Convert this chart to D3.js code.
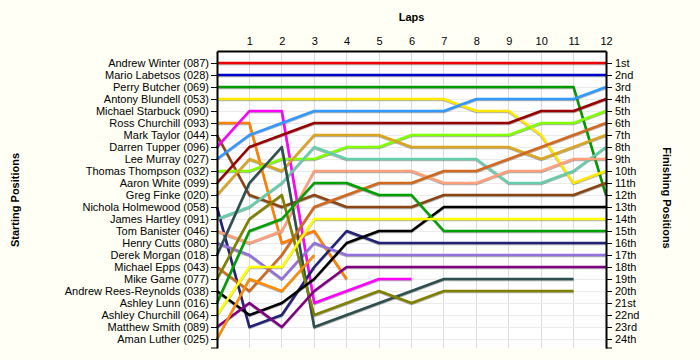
<!DOCTYPE html>
<html><head><meta charset="utf-8">
<script src="https://cdn.jsdelivr.net/npm/d3@7"></script>
<style>
html,body{margin:0;padding:0;background:#FFFFF5;}
svg{display:block;font-family:"Liberation Sans",Arial,sans-serif;}
</style></head>
<body>
<svg id="chart" width="700" height="360"></svg>
<script>
const drivers = ["Andrew Winter (087)","Mario Labetsos (028)","Perry Butcher (069)","Antony Blundell (053)","Michael Starbuck (090)","Ross Churchill (093)","Mark Taylor (044)","Darren Tupper (096)","Lee Murray (027)","Thomas Thompson (032)","Aaron White (099)","Greg Finke (020)","Nichola Holmewood (058)","James Hartley (091)","Tom Banister (046)","Henry Cutts (080)","Derek Morgan (018)","Michael Epps (043)","Mike Game (077)","Andrew Rees-Reynolds (038)","Ashley Lunn (016)","Ashley Churchill (064)","Matthew Smith (089)","Aman Luther (025)"];
const lapLabels = ["1","2","3","4","5","6","7","8","9","10","11","12"];
const finishLabels = ["1st","2nd","3rd","4th","5th","6th","7th","8th","9th","10th","11th","12th","13th","14th","15th","16th","17th","18th","19th","20th","21st","22nd","23rd","24th"];
// position of each driver at lap 0..n (retired drivers have shorter lists)
const positions = [
 [1,1,1,1,1,1,1,1,1,1,1,1,1],
 [2,2,2,2,2,2,2,2,2,2,2,2,2],
 [3,3,3,3,3,3,3,3,3,3,3,3,12],
 [4,4,4,4,4,4,4,4,5,5,7,11,10],
 [],
 [6,6,16,15,19],
 [7,12,13,12,13,13,13,12,12,12,12,12,11],
 [8,5,5,21,20,19,19],
 [9,7,6,5,5,5,5,5,4,4,4,4,3],
 [10,10,9,9,8,8,7,7,7,7,6,6,5],
 [11,8,7,6,6,6,6,6,6,6,5,5,4],
 [12,9,10,7,7,7,8,8,8,8,9,8,7],
 [13,23,22,18,15,16,16,16,16,16,16,16,16],
 [14,13,11,8,9,9,9,9,9,11,11,10,8],
 [15,16,15,10,10,10,10,11,11,10,10,9,9],
 [16,17,19,16,17,17,17,17,17,17,17,17,17],
 [17,11,8,23,22,21,20,19,19,19,19,19],
 [18,20,17,13,12,11,11,10,10,9,8,7,6],
 [19,14,12,22,21,20,21,20,20,20,20,20],
 [20,22,21,19,16,15,15,13,13,13,13,13,13],
 [21,15,14,11,11,12,12,15,15,15,15,15,15],
 [22,18,18,14,14,14,14,14,14,14,14,14,14],
 [23,21,23,20,18,18,18,18,18,18,18,18,18],
 [24,19,20,17]
];
const colors = ["#EE0000","#0000CC","#009900","#FFE800","#FFFFFF","#FF8000","#8B4513","#FF00FF","#3399FF","#80FF00","#990000","#DAA520","#222277","#66CDAA","#FFA07A","#9370DB","#2F4F4F","#D2691E","#808000","#000000","#00A000","#FFFF00","#800080","#FF8C00"];

const svg = d3.select("#chart");
const x = d3.scaleLinear().domain([0,12]).range([217,606]);
const y = d3.scaleLinear().domain([0,24.75]).range([51,348]);

svg.append("rect").attr("x",x(0)).attr("y",y(0)).attr("width",x(12)-x(0)).attr("height",y(24.75)-y(0)).attr("fill","#FFFFFF");

const grid = svg.append("g");
grid.selectAll("line.v").data(d3.range(1,12)).join("line")
  .attr("x1",d=>x(d)).attr("x2",d=>x(d)).attr("y1",y(0)).attr("y2",y(24.75))
  .attr("stroke","#DCDCDC").attr("stroke-width",1).attr("shape-rendering","crispEdges");
grid.selectAll("line.h").data(d3.range(1,25)).join("line")
  .attr("x1",x(0)).attr("x2",x(12)).attr("y1",d=>Math.round(y(d))+0.5).attr("y2",d=>Math.round(y(d))+0.5)
  .attr("stroke","#EBEBEB").attr("stroke-width",1);

const line = d3.line().x((d,i)=>x(i)).y(d=>y(d));
const lg = svg.append("g");
positions.forEach((p,i)=>{
  if(p.length<2) return;
  lg.append("path").attr("d",line(p)).attr("fill","none")
    .attr("stroke","#000").attr("stroke-opacity",0.3).attr("stroke-width",2.4)
    .attr("transform","translate(0,1)").attr("stroke-linejoin","round");
});
positions.forEach((p,i)=>{
  if(p.length<2) return;
  lg.append("path").attr("d",line(p)).attr("fill","none")
    .attr("stroke",colors[i]).attr("stroke-width",2.6).attr("stroke-linejoin","round");
});

const ticksPos = d3.range(1,25);
const leftAxis = d3.axisLeft(y).tickValues(ticksPos).tickFormat(d=>drivers[d-1]).tickSize(6).tickSizeOuter(0).tickPadding(2);
const gl = svg.append("g").attr("transform",`translate(${x(0)},0)`).call(leftAxis);
const rightAxis = d3.axisRight(y).tickValues(ticksPos).tickFormat(d=>finishLabels[d-1]).tickSize(6).tickSizeOuter(0).tickPadding(3);
const gr = svg.append("g").attr("transform",`translate(${x(12)},0)`).call(rightAxis);
const topAxis = d3.axisTop(x).tickValues(d3.range(1,13)).tickFormat(d=>lapLabels[d-1]).tickSize(0).tickSizeOuter(0).tickPadding(6);
const gt = svg.append("g").attr("transform",`translate(0,${y(0)})`).call(topAxis);
[gl,gr,gt].forEach(g=>{
  g.selectAll("text").attr("font-size","11px").attr("fill","#000").attr("font-family","'Liberation Sans',Arial,sans-serif");
  g.selectAll("line").attr("stroke","#000");
  g.select(".domain").attr("stroke","#000").attr("stroke-width",2);
});
svg.append("line").attr("x1",x(0)-6).attr("x2",x(0)).attr("y1",y(24.75)).attr("y2",y(24.75)).attr("stroke","#000");
svg.append("line").attr("x1",x(12)).attr("x2",x(12)+6).attr("y1",y(24.75)).attr("y2",y(24.75)).attr("stroke","#000");

svg.append("text").attr("x",(x(0)+x(12))/2).attr("y",21).attr("text-anchor","middle")
  .attr("font-size","11px").attr("font-weight","bold").text("Laps");
svg.append("text").attr("transform","translate(19,200) rotate(-90)").attr("text-anchor","middle")
  .attr("font-size","11px").attr("font-weight","bold").text("Starting Positions");
svg.append("text").attr("transform","translate(663,198) rotate(90)").attr("text-anchor","middle")
  .attr("font-size","11px").attr("font-weight","bold").text("Finishing Positions");
</script>
</body></html>
